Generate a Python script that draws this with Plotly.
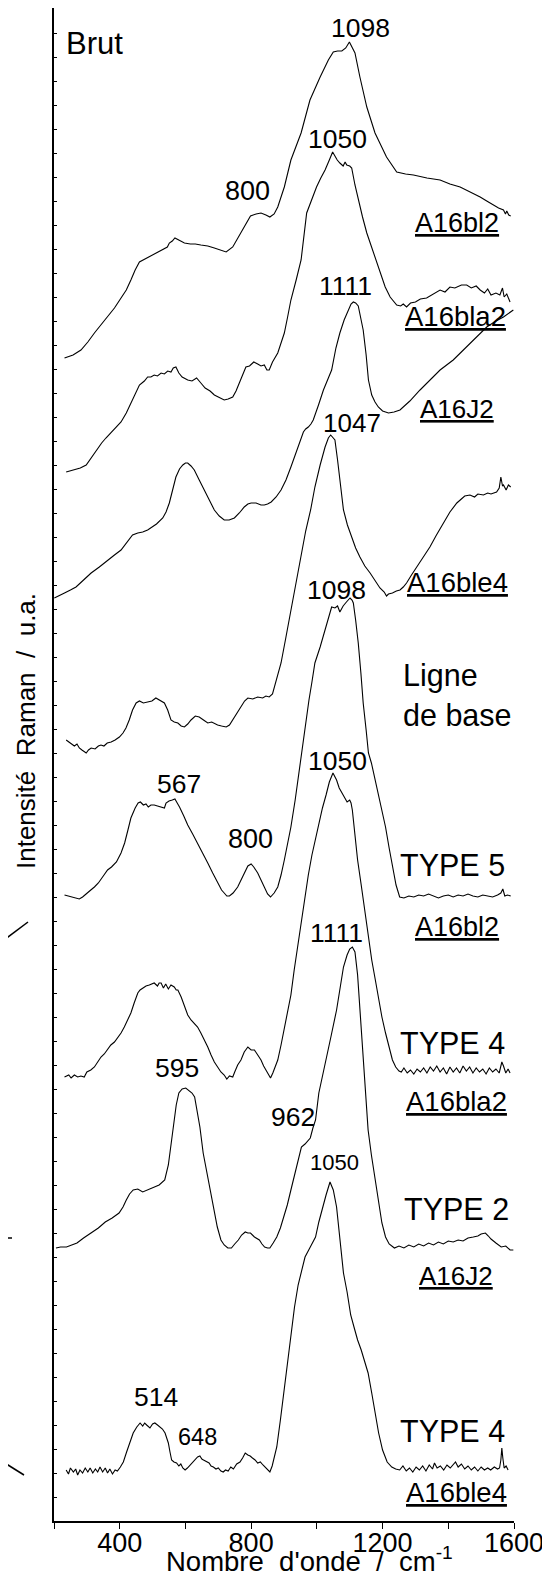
import plotly.graph_objects as go

FONT = "Liberation Sans, Arial, sans-serif"

# ---------------- Raman spectra (wavenumber / cm-1, stacked intensity / a.u.) -------------
# --- Brut (raw) ---
wn_A16bl2_brut = [
    232, 258, 282, 303, 323, 343, 363, 384, 404, 420,
    434, 447, 460, 478, 495, 513, 531, 545, 551, 560,
    568, 580, 597, 615, 630, 647, 668, 688, 705, 724,
    744, 760, 774, 786, 798, 815, 830, 845, 857, 870,
    881, 901, 921, 952, 979, 1010, 1035, 1050, 1063, 1076,
    1088, 1099, 1116, 1131, 1152, 1177, 1212, 1243, 1270, 1294,
    1335, 1375, 1405, 1436, 1467, 1497, 1517, 1537, 1553, 1568,
    1574, 1578, 1584, 1590]
I_A16bl2_brut = [
    1163, 1166, 1171, 1179, 1188, 1196, 1204, 1213, 1223, 1231,
    1241, 1251, 1259, 1262, 1265, 1268, 1271, 1274, 1278, 1280,
    1283, 1281, 1278, 1277, 1277, 1276, 1275, 1273, 1271, 1269,
    1274, 1283, 1291, 1299, 1305, 1307, 1308, 1306, 1304, 1307,
    1314, 1334, 1361, 1388, 1421, 1444, 1461, 1469, 1470, 1470,
    1473, 1479, 1468, 1444, 1414, 1388, 1364, 1349, 1347, 1346,
    1343, 1341, 1337, 1334, 1329, 1324, 1320, 1316, 1313, 1311,
    1307, 1310, 1306, 1305]

wn_A16bla2_brut = [
    237, 250, 262, 280, 298, 315, 333, 345, 358, 380,
    404, 420, 434, 447, 460, 475, 485, 495, 505, 515,
    526, 536, 546, 556, 563, 571, 580, 590, 607, 620,
    634, 647, 660, 675, 688, 700, 710, 718, 730, 744,
    754, 764, 774, 784, 795, 808, 820, 830, 840, 848,
    855, 865, 881, 891, 901, 911, 921, 937, 952, 969,
    985, 999, 1012, 1025, 1038, 1048, 1055, 1062, 1070, 1080,
    1086, 1091, 1100, 1106, 1116, 1126, 1139, 1152, 1172, 1192,
    1208, 1223, 1235, 1243, 1255, 1263, 1273, 1285, 1300, 1315,
    1334, 1350, 1362, 1375, 1390, 1405, 1420, 1440, 1456, 1470,
    1485, 1497, 1510, 1520, 1530, 1545, 1557, 1565, 1570, 1578,
    1588]
I_A16bla2_brut = [
    1049, 1050, 1051, 1053, 1056, 1064, 1073, 1078, 1083, 1091,
    1099, 1108, 1118, 1127, 1136, 1140, 1144, 1144, 1146, 1145,
    1148, 1147, 1150, 1149, 1153, 1154, 1148, 1144, 1141, 1140,
    1143, 1138, 1133, 1130, 1126, 1124, 1122, 1121, 1122, 1124,
    1130, 1138, 1146, 1154, 1155, 1159, 1157, 1155, 1156, 1151,
    1151, 1159, 1168, 1178, 1188, 1204, 1221, 1241, 1261, 1308,
    1323, 1334, 1343, 1351, 1361, 1369, 1365, 1361, 1358, 1355,
    1359, 1356, 1355, 1353, 1336, 1321, 1304, 1288, 1268, 1248,
    1234, 1224, 1219, 1216, 1215, 1217, 1214, 1218, 1219, 1222,
    1223, 1226, 1229, 1231, 1229, 1234, 1233, 1236, 1236, 1233,
    1235, 1231, 1228, 1232, 1226, 1228, 1226, 1233, 1224, 1227,
    1219]

wn_A16J2_brut = [
    201, 215, 232, 250, 267, 290, 313, 338, 363, 384,
    404, 420, 439, 455, 470, 485, 495, 512, 531, 541,
    551, 561, 571, 582, 592, 600, 607, 617, 627, 642,
    658, 673, 688, 703, 718, 733, 749, 764, 779, 790,
    800, 815, 830, 840, 850, 861, 876, 891, 906, 921,
    937, 952, 959, 966, 974, 982, 989, 1005, 1020, 1035,
    1045, 1058, 1070, 1083, 1096, 1104, 1111, 1118, 1126, 1134,
    1141, 1150, 1157, 1167, 1177, 1187, 1200, 1218, 1235, 1253,
    1283, 1314, 1345, 1375, 1415, 1445, 1476, 1517, 1545, 1568,
    1598]
I_A16J2_brut = [
    923, 925, 928, 931, 934, 941, 948, 954, 961, 966,
    971, 978, 986, 988, 989, 991, 993, 997, 1003, 1009,
    1018, 1031, 1044, 1052, 1056, 1058, 1058, 1055, 1051, 1041,
    1031, 1021, 1011, 1005, 1001, 1001, 1003, 1008, 1014, 1017,
    1018, 1018, 1016, 1016, 1017, 1019, 1024, 1031, 1041, 1054,
    1069, 1084, 1089, 1092, 1094, 1097, 1101, 1116, 1131, 1143,
    1151, 1173, 1188, 1201, 1211, 1217, 1219, 1218, 1215, 1203,
    1191, 1166, 1141, 1126, 1119, 1114, 1110, 1108, 1109, 1111,
    1120, 1131, 1141, 1151, 1161, 1171, 1181, 1194, 1200, 1204,
    1211]

wn_A16ble4_brut = [
    237, 245, 252, 262, 270, 277, 285, 298, 305, 313,
    325, 335, 343, 352, 362, 374, 386, 399, 410, 419,
    429, 439, 450, 460, 472, 485, 498, 510, 522, 536,
    546, 556, 566, 577, 587, 597, 607, 617, 630, 642,
    655, 668, 680, 690, 698, 710, 724, 734, 744, 756,
    769, 780, 790, 805, 820, 835, 845, 855, 865, 871,
    881, 891, 906, 921, 939, 952, 966, 981, 994, 1010,
    1025, 1035, 1042, 1050, 1055, 1063, 1070, 1081, 1093, 1106,
    1118, 1131, 1146, 1162, 1177, 1192, 1205, 1212, 1218, 1230,
    1242, 1253, 1263, 1273, 1288, 1304, 1324, 1344, 1364, 1385,
    1405, 1426, 1440, 1450, 1466, 1480, 1490, 1507, 1520, 1530,
    1547, 1555, 1560, 1565, 1568, 1576, 1583, 1590]
I_A16ble4_brut = [
    781, 779, 778, 775, 777, 773, 771, 768, 771, 773,
    772, 775, 776, 775, 778, 779, 781, 784, 788, 793,
    801, 811, 818, 820, 818, 819, 820, 823, 821, 818,
    811, 801, 799, 798, 795, 794, 797, 801, 805, 804,
    801, 798, 799, 797, 796, 795, 794, 796, 801, 807,
    814, 820, 823, 822, 824, 823, 825, 824, 827, 834,
    846, 858, 884, 911, 941, 963, 990, 1011, 1034, 1056,
    1074, 1083, 1086, 1083, 1081, 1061, 1041, 1011, 996, 984,
    973, 964, 955, 948, 940, 933, 929, 925, 927, 928,
    930, 931, 934, 938, 946, 954, 964, 974, 986, 998,
    1009, 1018, 1022, 1025, 1026, 1024, 1027, 1026, 1028, 1027,
    1029, 1033, 1044, 1035, 1036, 1031, 1036, 1034]

# --- Ligne de base (baseline corrected) ---
wn_A16bl2_type5 = [
    232, 242, 252, 265, 277, 287, 300, 312, 323, 335,
    350, 363, 375, 390, 404, 415, 425, 434, 447, 456,
    463, 472, 480, 487, 495, 505, 515, 525, 536, 541,
    550, 560, 568, 575, 582, 595, 607, 622, 637, 652,
    668, 683, 698, 710, 718, 726, 734, 745, 759, 769,
    779, 790, 800, 808, 820, 830, 840, 850, 859, 870,
    881, 891, 901, 911, 921, 934, 946, 956, 966, 976,
    985, 994, 1010, 1025, 1035, 1045, 1055, 1063, 1070, 1080,
    1090, 1101, 1107, 1111, 1118, 1126, 1134, 1141, 1150, 1157,
    1166, 1180, 1195, 1209, 1220, 1230, 1241, 1252, 1265, 1280,
    1295, 1310, 1325, 1340, 1355, 1370, 1385, 1400, 1415, 1430,
    1445, 1460, 1475, 1490, 1505, 1520, 1535, 1550, 1560, 1566,
    1572, 1580, 1590]
I_A16bl2_type5 = [
    626, 625, 624, 623, 622, 624, 628, 631, 634, 638,
    645, 651, 654, 659, 668, 678, 691, 703, 713, 718,
    719, 716, 717, 714, 716, 716, 715, 714, 713, 718,
    720, 721, 722, 718, 714, 705, 696, 687, 678, 669,
    658, 648, 638, 631, 628, 625, 625, 628, 634, 641,
    648, 655, 657, 654, 648, 641, 633, 627, 624, 628,
    634, 646, 661, 678, 694, 721, 749, 776, 801, 821,
    839, 858, 874, 891, 903, 914, 913, 915, 909, 915,
    919, 923, 921, 918, 901, 878, 848, 818, 791, 768,
    758, 736, 715, 694, 673, 654, 636, 624, 623, 625,
    624, 626, 625, 627, 625, 623, 625, 626, 624, 626,
    625, 627, 625, 624, 626, 625, 624, 626, 628, 632,
    625, 626, 625]

wn_A16bla2_type4 = [
    232, 245, 252, 262, 272, 282, 292, 300, 312, 323,
    333, 343, 353, 363, 373, 384, 394, 404, 414, 424,
    434, 444, 455, 462, 470, 480, 490, 500, 505, 515,
    520, 526, 533, 540, 548, 556, 566, 572, 577, 587,
    597, 607, 617, 627, 637, 647, 658, 668, 678, 688,
    698, 708, 718, 726, 734, 744, 750, 759, 769, 779,
    790, 800, 810, 820, 830, 838, 845, 852, 859, 866,
    873, 881, 891, 901, 911, 921, 931, 942, 952, 964,
    974, 985, 996, 1006, 1017, 1028, 1038, 1049, 1060, 1068,
    1076, 1084, 1092, 1100, 1104, 1108, 1116, 1124, 1135, 1145,
    1156, 1167, 1178, 1188, 1198, 1209, 1220, 1230, 1240, 1250,
    1257, 1265, 1275, 1285, 1295, 1305, 1315, 1325, 1335, 1345,
    1355, 1365, 1375, 1385, 1395, 1405, 1415, 1425, 1435, 1445,
    1455, 1465, 1475, 1485, 1495, 1505, 1515, 1525, 1535, 1545,
    1555, 1563, 1568, 1575, 1582, 1588]
I_A16bla2_type4 = [
    444, 446, 443, 446, 444, 445, 444, 449, 451, 454,
    459, 464, 467, 471, 476, 479, 483, 488, 494, 501,
    508, 518, 528, 531, 533, 535, 536, 537, 538, 535,
    538, 538, 533, 537, 532, 536, 534, 531, 531, 524,
    514, 506, 501, 498, 494, 488, 481, 474, 466, 459,
    454, 449, 446, 442, 445, 444, 449, 456, 461, 469,
    474, 471, 471, 466, 461, 455, 451, 446, 443, 448,
    454, 461, 476, 494, 511, 526, 551, 576, 601, 628,
    646, 666, 683, 698, 713, 726, 739, 748, 741, 733,
    728, 723, 719, 721, 718, 711, 686, 661, 636, 611,
    586, 561, 541, 521, 504, 488, 473, 461, 454, 450,
    449, 453, 448, 451, 447, 452, 449, 453, 448, 454,
    450, 455, 449, 453, 447, 454, 449, 453, 448, 455,
    450, 454, 448, 453, 449, 452, 447, 453, 449, 452,
    448, 459, 455, 448, 452, 448]

wn_A16J2_type2 = [
    206, 220, 238, 255, 270, 290, 313, 335, 356, 377,
    398, 410, 420, 430, 441, 455, 470, 484, 495, 505,
    520, 537, 548, 558, 564, 572, 580, 590, 601, 610,
    620, 628, 636, 644, 654, 665, 676, 687, 697, 708,
    718, 729, 740, 750, 761, 771, 782, 790, 798, 810,
    825, 833, 841, 850, 857, 867, 878, 889, 900, 910,
    921, 932, 942, 953, 964, 972, 980, 988, 996, 1006,
    1017, 1028, 1044, 1060, 1070, 1081, 1092, 1100, 1108, 1116,
    1124, 1135, 1145, 1156, 1166, 1177, 1188, 1198, 1209, 1220,
    1236, 1250, 1265, 1280, 1295, 1310, 1325, 1340, 1355, 1370,
    1385, 1400, 1415, 1430, 1445, 1460, 1476, 1490, 1500, 1513,
    1522, 1530, 1545, 1561, 1575, 1588, 1598]
I_A16J2_type2 = [
    273, 274, 274, 276, 278, 283, 288, 293, 299, 303,
    308, 314, 321, 327, 331, 332, 329, 331, 333, 334,
    336, 341, 356, 381, 394, 416, 428, 432, 433, 431,
    428, 424, 409, 394, 368, 349, 331, 311, 294, 281,
    276, 273, 273, 277, 281, 286, 289, 288, 288, 284,
    281, 277, 274, 273, 273, 278, 284, 293, 304, 316,
    331, 346, 361, 374, 377, 380, 383, 393, 401, 428,
    444, 461, 486, 511, 531, 554, 566, 572, 574, 569,
    546, 491, 444, 391, 366, 341, 316, 298, 284, 277,
    273, 275, 273, 276, 274, 277, 275, 278, 276, 279,
    277, 280, 279, 281, 280, 283, 284, 285, 287, 288,
    285, 282, 278, 274, 275, 271, 271]

wn_A16ble4_type4 = [
    237, 244, 250, 259, 266, 272, 279, 287, 295, 303,
    310, 318, 326, 333, 340, 348, 356, 363, 370, 378,
    386, 393, 402, 411, 421, 431, 441, 452, 462, 470,
    476, 482, 487, 492, 500, 507, 515, 523, 530, 538,
    543, 548, 553, 558, 565, 573, 580, 586, 592, 599,
    606, 614, 622, 630, 637, 644, 650, 655, 665, 672,
    678, 685, 693, 700, 708, 715, 722, 730, 738, 746,
    756, 766, 774, 782, 790, 797, 804, 812, 820, 828,
    836, 845, 851, 857, 864, 871, 878, 889, 900, 911,
    921, 932, 943, 954, 964, 980, 996, 1006, 1017, 1028,
    1040, 1050, 1060, 1070, 1081, 1092, 1103, 1113, 1124, 1135,
    1146, 1156, 1167, 1177, 1188, 1200, 1214, 1228, 1240, 1252,
    1262, 1272, 1282, 1292, 1302, 1312, 1322, 1332, 1342, 1352,
    1358, 1366, 1376, 1386, 1396, 1406, 1415, 1422, 1430, 1440,
    1450, 1460, 1470, 1480, 1490, 1500, 1510, 1520, 1529, 1540,
    1550, 1556, 1560, 1563, 1566, 1570, 1576, 1582]
I_A16ble4_type4 = [
    51, 47, 53, 49, 52, 46, 51, 48, 53, 49,
    53, 48, 52, 49, 54, 49, 53, 48, 52, 47,
    51, 50, 54, 59, 69, 78, 88, 94, 98, 95,
    98, 96, 94, 93, 97, 98, 96, 94, 92, 88,
    83, 78, 69, 61, 59, 58, 55, 57, 53, 51,
    53, 56, 59, 62, 64, 65, 62, 61, 59, 58,
    55, 54, 52, 53, 50, 49, 51, 50, 54, 52,
    57, 59, 63, 68, 66, 65, 63, 61, 58, 59,
    56, 53, 51, 49, 55, 66, 74, 101, 131, 159,
    186, 214, 236, 251, 264, 274, 284, 299, 314, 326,
    339, 331, 314, 281, 248, 229, 206, 194, 181, 171,
    159, 148, 128, 108, 88, 71, 59, 54, 52, 51,
    55, 50, 53, 49, 54, 51, 55, 50, 56, 52,
    58, 53, 55, 51, 56, 53, 57, 59, 54, 57,
    52, 55, 51, 54, 50, 54, 51, 53, 51, 54,
    52, 53, 61, 73, 63, 53, 55, 51]

spectra = [
    (wn_A16bl2_brut, I_A16bl2_brut),
    (wn_A16bla2_brut, I_A16bla2_brut),
    (wn_A16J2_brut, I_A16J2_brut),
    (wn_A16ble4_brut, I_A16ble4_brut),
    (wn_A16bl2_type5, I_A16bl2_type5),
    (wn_A16bla2_type4, I_A16bla2_type4),
    (wn_A16J2_type2, I_A16J2_type2),
    (wn_A16ble4_type4, I_A16ble4_type4),
]

# ---------------- labels ----------------
peak_labels = ["1098", "1050", "800", "1111", "1047", "1098", "1050", "567",
               "800", "1111", "595", "962", "1050", "514", "648"]
peak_wn = [1134, 1063, 789, 1088, 1106, 1060, 1062, 580, 798, 1059, 574, 928, 1055, 510, 637]
peak_I = [1493, 1382, 1330, 1235, 1098, 931, 760, 737, 682, 588, 453, 404, 359, 124, 84]
peak_size = [26.5, 26.5, 27, 26.5, 26, 26.5, 26.5, 26.5, 27, 26.5, 26.5, 26.5, 22, 26.5, 23.5]

sample_labels = ["A16bl2", "A16bla2", "A16J2", "A16ble4", "A16bl2", "A16bla2", "A16J2", "A16ble4"]
sample_wn = [1426, 1423, 1425, 1427, 1425, 1425, 1424, 1425]
sample_I = [1298, 1205, 1112, 939, 594, 420, 245, 29]
sample_size = [27, 27.5, 26, 27.5, 27, 27.5, 26, 27.5]

type_labels = ["TYPE 5", "TYPE 4", "TYPE 2", "TYPE 4"]
type_wn = [1412, 1412, 1424, 1412]
type_I = [656, 478, 312, 90]

x_tick_step = 400
x_minor_step = 200

fig = go.Figure()
for wn, inten in spectra:
    fig.add_trace(go.Scatter(x=wn, y=inten, mode="lines",
                             line=dict(color="black", width=1.1),
                             showlegend=False, hoverinfo="skip"))

ann = []
for t, x, y, s in zip(peak_labels, peak_wn, peak_I, peak_size):
    ann.append(dict(text=t, x=x, y=y, xref="x", yref="y", showarrow=False,
                    xanchor="center", yanchor="middle", font=dict(size=s)))
for t, x, y, s in zip(sample_labels, sample_wn, sample_I, sample_size):
    ann.append(dict(text="<u>" + t + "</u>", x=x, y=y, xref="x", yref="y", showarrow=False,
                    xanchor="center", yanchor="middle", font=dict(size=s)))
for t, x, y in zip(type_labels, type_wn, type_I):
    ann.append(dict(text=t, x=x, y=y, xref="x", yref="y", showarrow=False,
                    xanchor="center", yanchor="middle", font=dict(size=30.5)))
ann.append(dict(text="Brut", x=229, y=1478, xref="x", yref="y", showarrow=False,
                xanchor="left", yanchor="middle", font=dict(size=31)))
ann.append(dict(text="Ligne<br>de base", x=1255, y=826, xref="x", yref="y", showarrow=False,
                xanchor="left", yanchor="middle", align="left", font=dict(size=30.5)))

# ---- geometry (page pixels; the page body has an 8 px margin) ----
BODY = 8
PL, PT, PW, PH = 54, 8, 460, 1513       # plot area on the page


def px2paper(px, py):
    return (px - PL) / PW, (PT + PH - py) / PH


xt = px2paper(309, 1559)
ann.append(dict(text="Nombre\u00a0\u00a0d'onde\u00a0\u00a0/\u00a0\u00a0cm<sup>-1</sup>",
                x=xt[0], y=xt[1], xref="paper", yref="paper", showarrow=False,
                xanchor="center", yanchor="middle", font=dict(size=27.5)))
yt = px2paper(26, 731)
ann.append(dict(text="Intensité\u00a0\u00a0Raman\u00a0\u00a0/\u00a0\u00a0u.a.",
                x=yt[0], y=yt[1], xref="paper", yref="paper", showarrow=False,
                textangle=-90, xanchor="center", yanchor="middle", font=dict(size=26)))

shapes = []
for (x0, y0, x1, y1) in [(0, 943, 28, 922), (0, 1098, 5, 1094), (0, 1238, 12, 1238), (0, 1460, 24, 1475)]:
    a = px2paper(x0, y0)
    b = px2paper(x1, y1)
    shapes.append(dict(type="line", xref="paper", yref="paper", x0=a[0], y0=a[1], x1=b[0], y1=b[1],
                       line=dict(color="black", width=1.5)))

FW, FH = 550 - BODY, 1582 - BODY
ml = PL - BODY
mt = PT - BODY
fig.update_layout(
    width=FW, height=FH,
    margin=dict(l=ml, r=FW - ml - PW, t=mt, b=FH - mt - PH, pad=0, autoexpand=False),
    paper_bgcolor="white", plot_bgcolor="white",
    font=dict(family=FONT, color="black", size=25),
    annotations=ann, shapes=shapes, showlegend=False,
    xaxis=dict(range=[200, 1600], showline=True, linecolor="black", linewidth=1.5,
               ticks="outside", ticklen=6, tickwidth=1, tickcolor="black",
               tick0=0, dtick=x_tick_step, tickfont=dict(size=27), automargin=False,
               ticklabelstandoff=-9, ticklabeloverflow="allow",
               minor=dict(ticks="outside", ticklen=6, tick0=0, dtick=x_minor_step, tickcolor="black"),
               showgrid=False, zeroline=False),
    yaxis=dict(range=[0, PH], showline=True, linecolor="black", linewidth=1.5,
               ticks="inside", ticklen=3, tickwidth=1, tickcolor="black",
               tick0=0, dtick=24, showticklabels=False, automargin=False,
               showgrid=False, zeroline=False),
)

fig.write_html("out.html")
